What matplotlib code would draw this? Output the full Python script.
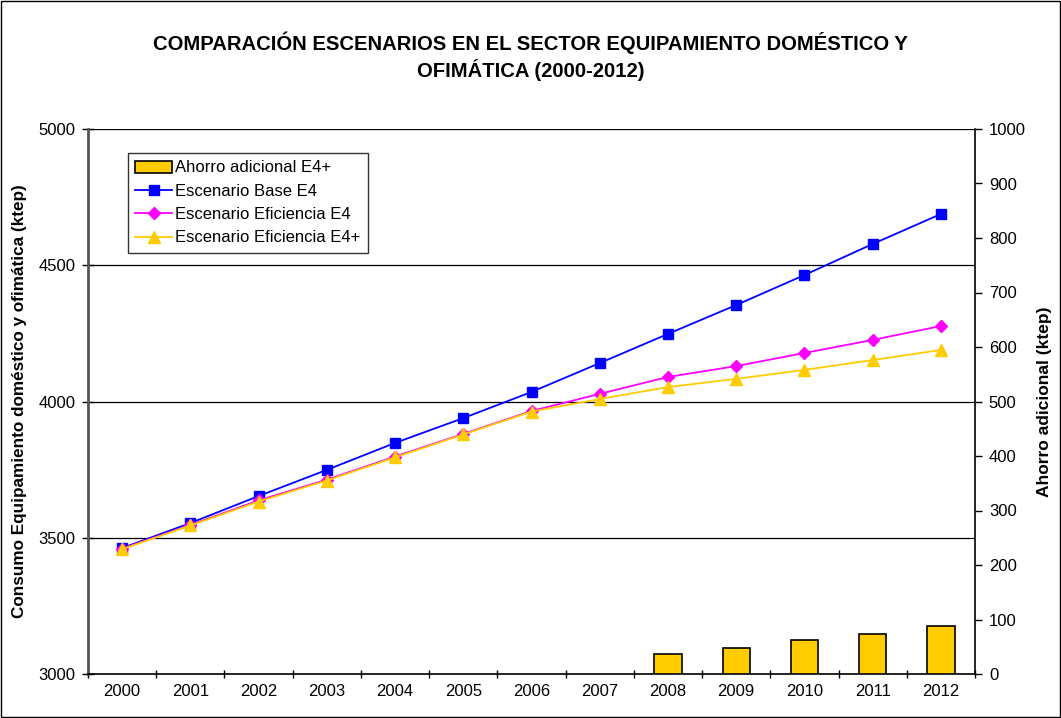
import numpy as np
import matplotlib.pyplot as plt
from matplotlib.patches import Rectangle

plt.rcParams["font.family"] = ["Liberation Sans", "DejaVu Sans"]

# data
years = ["2000", "2001", "2002", "2003", "2004", "2005", "2006",
         "2007", "2008", "2009", "2010", "2011", "2012"]
base_e4 = [3462, 3554, 3653, 3749, 3848, 3939, 4035, 4141, 4248, 4354, 4464, 4578, 4688]
efic_e4 = [3460, 3547, 3637, 3713, 3798, 3881, 3965, 4028, 4090, 4130, 4178, 4226, 4277]
efic_e4p = [3458, 3545, 3633, 3710, 3795, 3879, 3963, 4009, 4053, 4083, 4116, 4152, 4189]
ahorro_years = ["2008", "2009", "2010", "2011", "2012"]
ahorro = [37, 48, 62, 74, 88]

x = np.arange(len(years))
xb = np.array([years.index(y) for y in ahorro_years])

fig = plt.figure(figsize=(10.61, 7.18), dpi=100)
fig.patches.append(Rectangle((0.001, 0.001), 0.998, 0.998, transform=fig.transFigure,
                             fill=False, edgecolor="black", linewidth=1))
ax = fig.add_axes([88 / 1061, 1 - 674 / 718, (975 - 88) / 1061, (674 - 129) / 718])
ax2 = ax.twinx()

# grid on left axis
for v in [3500, 4000, 4500, 5000]:
    ax.axhline(v, color="black", linewidth=0.9, zorder=0)

l1, = ax.plot(x, base_e4, color="#0000FF", marker="s", markersize=7, linewidth=1.3,
              label="Escenario Base E4")
l2, = ax.plot(x, efic_e4, color="#FF00FF", marker="D", markersize=6, linewidth=1.3,
              label="Escenario Eficiencia E4")
l3, = ax.plot(x, efic_e4p, color="#FFCC00", marker="^", markersize=8, linewidth=1.3,
              label="Escenario Eficiencia E4+")

bars = ax2.bar(xb, ahorro, width=0.4, color="#FFCC00", edgecolor="black", linewidth=1.2,
               label="Ahorro adicional E4+")

ax.set_xlim(-0.5, len(years) - 0.5)
ax.set_ylim(3000, 5000)
ax2.set_ylim(0, 1000)
ax.set_yticks([3000, 3500, 4000, 4500, 5000])
ax2.set_yticks(np.arange(0, 1001, 100))
ax.set_xticks(x)
ax.set_xticklabels(years)
ax.set_xticks(np.arange(-0.5, len(years), 1), minor=True)
ax.tick_params(axis="x", which="major", length=0, labelsize=12, pad=7)
ax.tick_params(axis="x", which="minor", length=6, direction="inout", width=1)
ax.tick_params(axis="y", length=8, direction="inout", labelsize=12, width=1, pad=5)
ax2.tick_params(axis="y", length=5, direction="out", labelsize=12, width=1, pad=5)

for a in (ax, ax2):
    a.spines["top"].set_visible(False)
ax.spines["right"].set_visible(False)
ax2.spines["left"].set_visible(False)
ax2.spines["bottom"].set_visible(False)
ax.spines["left"].set_color("#555555")
ax.spines["left"].set_linewidth(2)
ax.spines["bottom"].set_linewidth(1.2)
ax2.spines["right"].set_linewidth(1.2)

ax.set_ylabel("Consumo Equipamiento doméstico y ofimática (ktep)", fontsize=12.3,
              fontweight="bold", labelpad=8)
ax2.set_ylabel("Ahorro adicional (ktep)", fontsize=12.5, fontweight="bold", labelpad=8)

fig.suptitle("COMPARACIÓN ESCENARIOS EN EL SECTOR EQUIPAMIENTO DOMÉSTICO Y\nOFIMÁTICA (2000-2012)",
             fontsize=14.6, fontweight="bold", y=0.956, linespacing=1.3)

leg = ax2.legend([bars, l1, l2, l3],
                 ["Ahorro adicional E4+", "Escenario Base E4", "Escenario Eficiencia E4",
                  "Escenario Eficiencia E4+"],
                 loc="upper left", bbox_to_anchor=(40 / 887, 1 - 24 / 545),
                 fontsize=12, frameon=True, fancybox=False, edgecolor="black",
                 borderpad=0.45, labelspacing=0.5, handlelength=2.2, handletextpad=0.2,
                 borderaxespad=0)
leg.get_frame().set_linewidth(1)

fig.savefig("out.png", dpi=100)
